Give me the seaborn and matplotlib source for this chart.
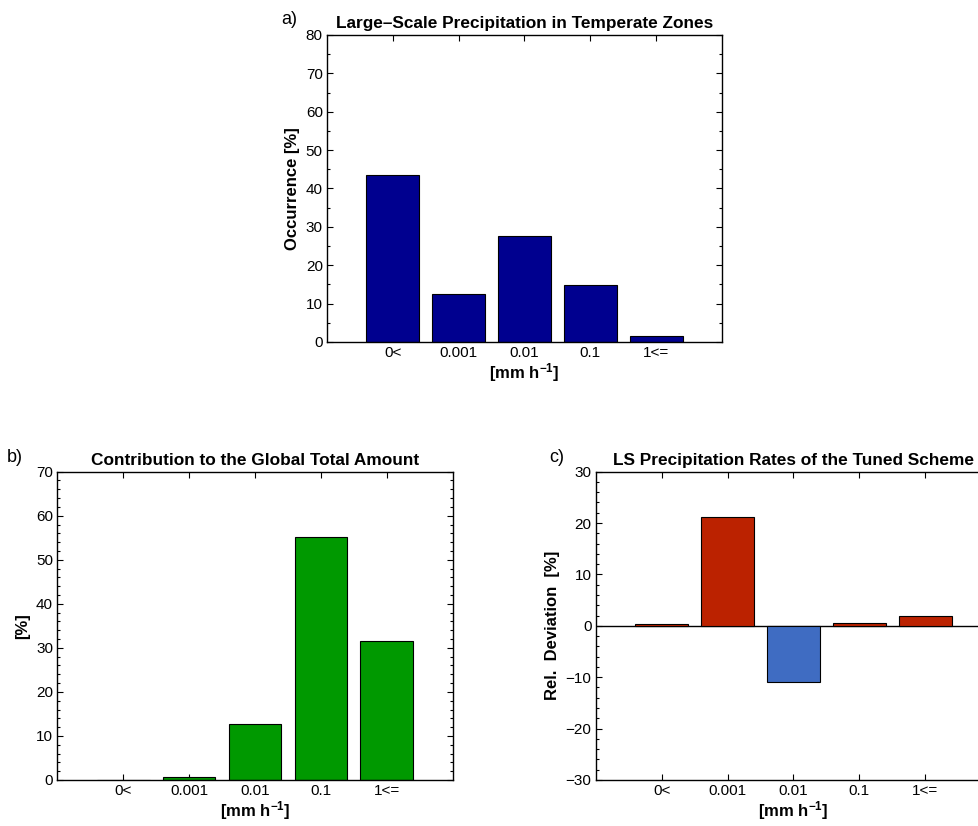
import matplotlib
matplotlib.use("Agg")
import matplotlib.pyplot as plt
import seaborn as sns
import pandas as pd
from matplotlib.ticker import MultipleLocator

categories = ["0<", "0.001", "0.01", "0.1", "1<="]
occurrence = [43.4, 12.5, 27.6, 14.9, 1.5]
contribution = [0.1, 0.6, 12.8, 55.2, 31.5]
deviation = [0.3, 21.2, -11.0, 0.6, 2.0]

sns.set_theme(style="white", rc={"text.color": "black", "axes.labelcolor": "black",
                                 "xtick.color": "black", "ytick.color": "black"})
plt.rcParams["font.family"] = ["Liberation Sans", "DejaVu Sans"]
plt.rcParams["mathtext.fontset"] = "custom"
plt.rcParams["mathtext.rm"] = "Liberation Sans"
plt.rcParams["mathtext.bf"] = "Liberation Sans:bold"
plt.rcParams["mathtext.default"] = "bf"

navy = "#00008F"
green = "#009900"
red = "#BB2200"
blue = "#3F6CC2"

fig = plt.figure(figsize=(9.79, 8.26), dpi=100)
ax_a = fig.add_axes([0.334, 0.586, 0.4035, 0.3717])
ax_b = fig.add_axes([0.0585, 0.0557, 0.4039, 0.3733])
ax_c = fig.add_axes([0.6085, 0.0557, 0.4039, 0.3733])

df_a = pd.DataFrame({"cat": categories, "val": occurrence})
df_b = pd.DataFrame({"cat": categories, "val": contribution})
df_c = pd.DataFrame({"cat": categories, "val": deviation})

sns.barplot(data=df_a, x="cat", y="val", color=navy, saturation=1, width=0.8,
            edgecolor="black", linewidth=0.8, ax=ax_a)
sns.barplot(data=df_b, x="cat", y="val", color=green, saturation=1, width=0.8,
            edgecolor="black", linewidth=0.8, ax=ax_b)
cols_c = [red if v >= 0 else blue for v in deviation]
sns.barplot(data=df_c, x="cat", y="val", hue="cat", palette=cols_c, saturation=1,
            width=0.8, edgecolor="black", linewidth=0.8, legend=False, ax=ax_c)
ax_c.axhline(0, color="black", lw=1.0, zorder=0.5)

fs = 11
lfs = 12
tfs = 12.4
for ax, ylim, major, minor in [(ax_a, (0, 80), 10, 5), (ax_b, (0, 70), 10, 2), (ax_c, (-30, 30), 10, 2)]:
    ax.set_xlim(-1, 5)
    ax.set_ylim(*ylim)
    ax.set_xticks(range(5))
    ax.set_xticklabels(categories)
    ax.yaxis.set_major_locator(MultipleLocator(major))
    ax.yaxis.set_minor_locator(MultipleLocator(minor))
    ax.tick_params(axis="both", which="both", direction="in", top=True, right=True,
                   bottom=True, left=True, labelsize=fs, colors="black", pad=3)
    ax.tick_params(which="major", length=4.5, width=0.8)
    ax.tick_params(which="minor", length=2.5, width=0.8)
    for s in ax.spines.values():
        s.set_color("black")
        s.set_linewidth(1.0)
    ax.set_xlabel(r"[mm h$^{-1}$]", fontsize=lfs, fontweight="bold", labelpad=1)

ax_a.set_ylabel("Occurrence [%]", fontsize=lfs, fontweight="bold", labelpad=4)
ax_b.set_ylabel("[%]", fontsize=lfs, fontweight="bold", labelpad=4)
ax_c.set_ylabel("Rel.  Deviation  [%]", fontsize=lfs, fontweight="bold", labelpad=4)

ax_a.set_title("Large\u2013Scale Precipitation in Temperate Zones", fontsize=tfs, fontweight="bold", pad=5)
ax_b.set_title("Contribution to the Global Total Amount", fontsize=tfs, fontweight="bold", pad=5)
ax_c.set_title("LS Precipitation Rates of the Tuned Scheme", fontsize=tfs, fontweight="bold", pad=5)

fig.text(281 / 979, 1 - 20 / 826, "a)", fontsize=13, va="center", ha="left")
fig.text(7 / 979, 1 - 457 / 826, "b)", fontsize=13, va="center", ha="left")
fig.text(549 / 979, 1 - 457 / 826, "c)", fontsize=13, va="center", ha="left")

fig.savefig("out.png", dpi=100)
